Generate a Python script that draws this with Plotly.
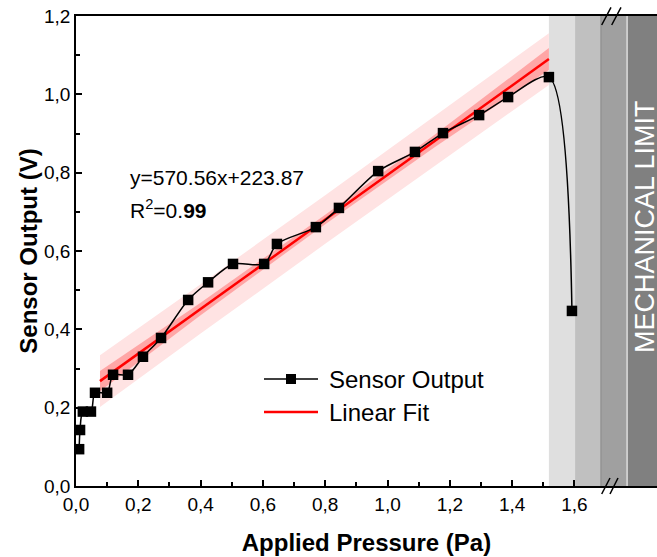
import plotly.graph_objects as go

# ---- data ----
pressure = [0.010, 0.013, 0.022, 0.048, 0.061, 0.100, 0.119, 0.167, 0.215, 0.273,
            0.360, 0.424, 0.504, 0.604, 0.645, 0.770, 0.844, 0.970, 1.088, 1.178,
            1.294, 1.387, 1.518, 1.592]
output = [0.094, 0.143, 0.190, 0.190, 0.238, 0.238, 0.284, 0.284, 0.330, 0.378,
          0.475, 0.520, 0.567, 0.567, 0.618, 0.661, 0.710, 0.804, 0.853, 0.901,
          0.947, 0.993, 1.044, 0.447]

fit_slope = 0.57056      # V/Pa  (570.56 mV/Pa)
fit_intercept = 0.22387  # V     (223.87 mV)
fit_x = [0.077, 1.518]

band_x = [0.077, 0.40, 0.80, 1.15, 1.518]
conf_half = [0.026, 0.016, 0.012, 0.016, 0.028]
pred_half = [0.066, 0.063, 0.062, 0.063, 0.066]

limit_edges = [1.518, 1.602, 1.685, 1.769, 1.87]
limit_colors = ["#DFDFDF", "#C0C0C0", "#A0A0A0", "#808080"]

x_ticks = [0.0, 0.2, 0.4, 0.6, 0.8, 1.0, 1.2, 1.4, 1.6]
x_minor = [0.1, 0.3, 0.5, 0.7, 0.9, 1.1, 1.3, 1.5]
y_ticks = [0.0, 0.2, 0.4, 0.6, 0.8, 1.0, 1.2]
y_minor = [0.1, 0.3, 0.5, 0.7, 0.9, 1.1]

legend_names = ["Sensor Output", "Linear Fit"]

FONT = "Arial, Liberation Sans, sans-serif"

# plot-area geometry (pixels) used to place paper-referenced decorations
L, T, W, H = 76, 16, 581, 470

def px(x):
    return (x - L) / W

def py(y):
    return (T + H - y) / H

def line_at(x):
    return fit_slope * x + fit_intercept

fig = go.Figure()

# prediction band
up = [line_at(x) + h for x, h in zip(band_x, pred_half)]
lo = [line_at(x) - h for x, h in zip(band_x, pred_half)]
fig.add_trace(go.Scatter(x=band_x + band_x[::-1], y=up + lo[::-1], fill="toself",
                         fillcolor="#FFE3E3", line=dict(width=0), mode="lines",
                         showlegend=False, hoverinfo="skip"))
# confidence band
up = [line_at(x) + h for x, h in zip(band_x, conf_half)]
lo = [line_at(x) - h for x, h in zip(band_x, conf_half)]
fig.add_trace(go.Scatter(x=band_x + band_x[::-1], y=up + lo[::-1], fill="toself",
                         fillcolor="#FFA6A6", line=dict(width=0), mode="lines",
                         showlegend=False, hoverinfo="skip"))

fig.add_trace(go.Scatter(x=fit_x, y=[line_at(x) for x in fit_x], mode="lines",
                         name=legend_names[1], showlegend=False,
                         line=dict(color="#FF0000", width=2.5)))
fig.add_trace(go.Scatter(x=pressure, y=output, mode="lines+markers", name=legend_names[0],
                         showlegend=False,
                         line=dict(color="black", width=1.5, shape="spline", smoothing=0.8),
                         marker=dict(symbol="square", size=10.5, color="black")))

shapes = []
for i, c in enumerate(limit_colors):
    shapes.append(dict(type="rect", xref="x", yref="paper", x0=limit_edges[i], x1=limit_edges[i + 1],
                       y0=0, y1=1, fillcolor=c, line=dict(width=0), layer="below"))
shapes.append(dict(type="line", xref="x", yref="paper", x0=limit_edges[2], x1=limit_edges[2],
                   y0=0, y1=1, line=dict(color="#888888", width=1)))
shapes.append(dict(type="line", xref="x", yref="paper", x0=limit_edges[3], x1=limit_edges[3],
                   y0=0, y1=1, line=dict(color="white", width=1)))
# axis break marks
for (xa, xb, ya, yb) in [(601.7, 611, 25, 7.3), (611.7, 621, 25, 7.3),
                         (601.7, 610, 494, 478), (610, 618, 494, 478)]:
    shapes.append(dict(type="line", xref="paper", yref="paper", x0=px(xa), x1=px(xb),
                       y0=py(ya), y1=py(yb), line=dict(color="black", width=1.5)))

# legend (drawn manually to match the long legend symbols)
shapes.append(dict(type="line", xref="paper", yref="paper", x0=px(264), x1=px(318),
                   y0=py(379), y1=py(379), line=dict(color="black", width=1.5)))
shapes.append(dict(type="rect", xref="paper", yref="paper", x0=px(286), x1=px(296),
                   y0=py(384), y1=py(374), fillcolor="black", line=dict(width=0)))
shapes.append(dict(type="line", xref="paper", yref="paper", x0=px(264), x1=px(318),
                   y0=py(412), y1=py(412), line=dict(color="#FF0000", width=2.5)))

annotations = [
    dict(xref="paper", yref="paper", x=px(327), y=py(379), xanchor="left", yanchor="middle",
         text=legend_names[0], showarrow=False, font=dict(size=24, color="black", family=FONT)),
    dict(xref="paper", yref="paper", x=px(327), y=py(412), xanchor="left", yanchor="middle",
         text=legend_names[1], showarrow=False, font=dict(size=24, color="black", family=FONT)),
    dict(xref="paper", yref="paper", x=px(128), y=py(177), xanchor="left", yanchor="middle",
         text="y=570.56x+223.87", showarrow=False, font=dict(size=21, color="black", family=FONT)),
    dict(xref="paper", yref="paper", x=px(128), y=py(209), xanchor="left", yanchor="middle",
         text="R<sup>2</sup>=0.<b>99</b>", showarrow=False, font=dict(size=21, color="black", family=FONT)),
    dict(xref="paper", yref="paper", x=px(645), y=py(227), xanchor="center", yanchor="middle",
         text="MECHANICAL LIMIT", textangle=-90,
         showarrow=False, font=dict(size=27, color="white", family=FONT)),
]

axis_common = dict(showline=True, linecolor="black", linewidth=1.5, mirror=True,
                   ticks="inside", ticklen=6, tickwidth=1.5, tickcolor="black",
                   showgrid=False, zeroline=False, automargin=False,
                   tickfont=dict(size=19, color="black", family=FONT))

fig.update_layout(
    width=657, height=557,
    margin=dict(l=L, r=657 - L - W, t=T, b=557 - T - H),
    paper_bgcolor="white", plot_bgcolor="white",
    separators=",.",
    showlegend=False,
    shapes=shapes, annotations=annotations,
    xaxis=dict(range=[0, 1.865], tickmode="array", tickvals=x_ticks, tickformat=".1f",
               minor=dict(tickvals=x_minor, ticks="inside", ticklen=4, tickcolor="black", tickwidth=1.5),
               title=dict(text="<b>Applied Pressure (Pa)</b>", font=dict(size=24, color="black", family=FONT),
                          standoff=21),
               **axis_common),
    yaxis=dict(range=[0, 1.2], tickmode="array", tickvals=y_ticks, tickformat=".1f",
               minor=dict(tickvals=y_minor, ticks="inside", ticklen=4, tickcolor="black", tickwidth=1.5),
               title=dict(text="<b>Sensor Output (V)</b>", font=dict(size=24, color="black", family=FONT),
                          standoff=0),
               **axis_common),
)

fig.write_html("out.html", config={"displayModeBar": False},
               post_script="document.body.style.margin='0';")
